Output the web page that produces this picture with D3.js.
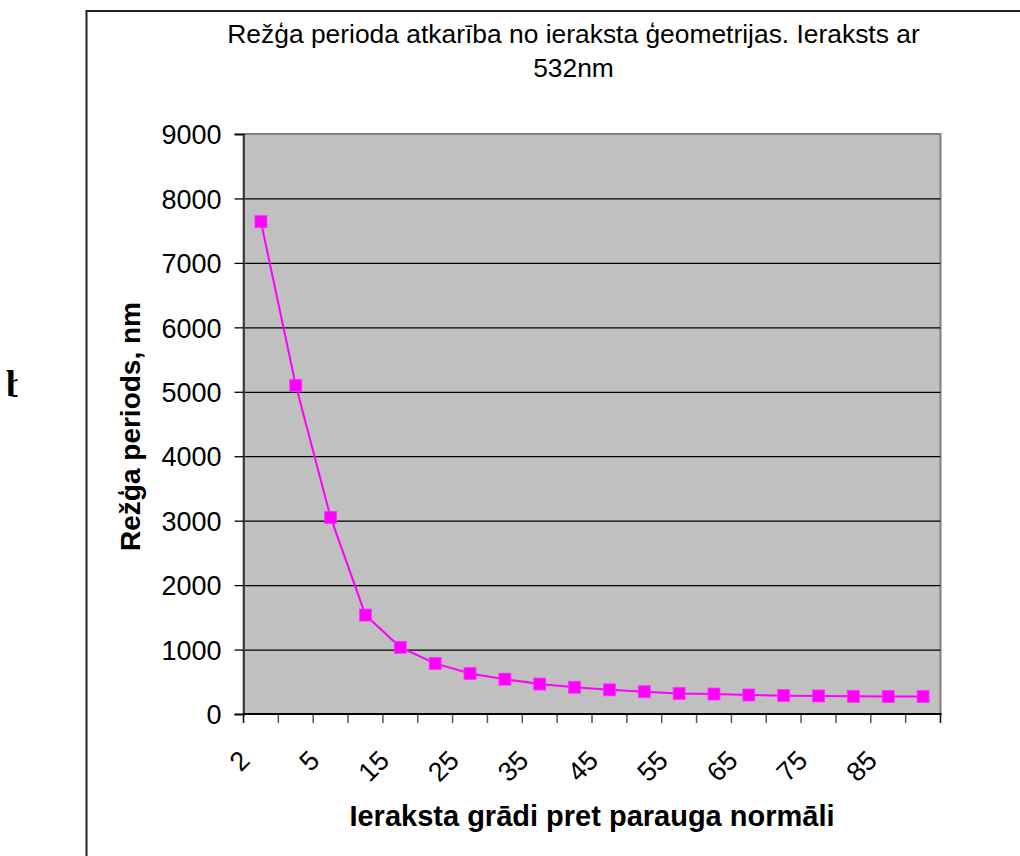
<!DOCTYPE html>
<html>
<head>
<meta charset="utf-8">
<script src="https://cdn.jsdelivr.net/npm/d3@7"></script>
<style>
  html, body { margin: 0; padding: 0; background: #fff; }
  svg { display: block; }
  text { font-family: "Liberation Sans", Arial, sans-serif; fill: #000; }
</style>
</head>
<body>
<svg id="chart" width="1020" height="856"></svg>
<script>
// Recording angle (degrees from sample normal) and the resulting grating period (nm), 532 nm recording
const angles = ["2", "3", "5", "10", "15", "20", "25", "30", "35", "40", "45", "50", "55", "60", "65", "70", "75", "80", "85", "90"];
const periods = [7640, 5100, 3050, 1535, 1035, 785, 630, 540, 465, 415, 375, 345, 320, 310, 295, 285, 280, 275, 270, 270];
const yTicks = [0, 1000, 2000, 3000, 4000, 5000, 6000, 7000, 8000, 9000];
const xLabelStep = 2;

const titleLines = ["Režģa perioda atkarība no ieraksta ģeometrijas. Ieraksts ar", "532nm"];
const yTitle = "Režģa periods, nm";
const xTitle = "Ieraksta grādi pret parauga normāli";

const svg = d3.select("#chart");

const plot = { left: 243.5, right: 940.5, top: 134, bottom: 714 };

const x = d3.scaleBand().domain(angles).range([plot.left, plot.right]).paddingInner(0).paddingOuter(0);
const y = d3.scaleLinear().domain([0, 9000]).range([plot.bottom, plot.top]);

// stray glyph at the left margin, cut off by the page edge
svg.append("clipPath").attr("id", "stray")
  .append("rect").attr("x", 0).attr("y", 360).attr("width", 17.5).attr("height", 50);
svg.append("text")
  .attr("x", 6).attr("y", 397)
  .attr("clip-path", "url(#stray)")
  .style("font-family", "'Liberation Serif', 'Times New Roman', serif")
  .style("font-weight", "bold")
  .style("font-size", "37px")
  .text("b");

// chart frame (left and top edges visible)
svg.append("path")
  .attr("d", "M86.5,856 L86.5,11 L1020,11")
  .attr("fill", "none")
  .attr("stroke", "#222")
  .attr("stroke-width", 2);

// plot area background
svg.append("rect")
  .attr("x", plot.left).attr("y", plot.top)
  .attr("width", plot.right - plot.left).attr("height", plot.bottom - plot.top)
  .attr("fill", "#c0c0c0")
  .attr("stroke", "#808080")
  .attr("stroke-width", 2);

// horizontal gridlines
svg.append("g").selectAll("line")
  .data(yTicks.filter(d => d > 0 && d < 9000))
  .join("line")
  .attr("x1", plot.left).attr("x2", plot.right)
  .attr("y1", d => y(d) + 0.5).attr("y2", d => y(d) + 0.5)
  .attr("stroke", "#000")
  .attr("stroke-width", 1.3);

// y axis
const yAxis = d3.axisLeft(y).tickValues(yTicks).tickSize(9).tickPadding(13).tickFormat(d3.format("d"));
const gy = svg.append("g").attr("transform", `translate(${plot.left},0)`).call(yAxis);
gy.select(".domain").attr("stroke", "#404040").attr("stroke-width", 2);
gy.selectAll(".tick line").attr("stroke", "#000").attr("stroke-width", 1.3);
gy.selectAll(".tick text")
  .style("font-size", "27px")
  .attr("dy", "0.36em");

// x axis: ticks sit on category boundaries, labels on every other category
const boundaries = angles.map(a => x(a)).concat([x(angles[angles.length - 1]) + x.bandwidth()]);
svg.append("g").selectAll("line")
  .data(boundaries)
  .join("line")
  .attr("x1", d => d).attr("x2", d => d)
  .attr("y1", plot.bottom).attr("y2", plot.bottom + 9)
  .attr("stroke", (d, i) => (i === 0 || i === boundaries.length - 1) ? "#000" : "#555")
  .attr("stroke-width", 1.5);

svg.append("line")
  .attr("x1", plot.left - 1).attr("x2", plot.right + 1)
  .attr("y1", plot.bottom).attr("y2", plot.bottom)
  .attr("stroke", "#000").attr("stroke-width", 2);

svg.append("g").selectAll("text")
  .data(angles.filter((a, i) => i % xLabelStep === 0))
  .join("text")
  .attr("text-anchor", "end")
  .attr("transform", d => `translate(${x(d) + x.bandwidth() / 2 - 9.5},762) rotate(-45)`)
  .style("font-size", "27px")
  .text(d => d);

// series line and square markers
const line = d3.line()
  .x((d, i) => x(angles[i]) + x.bandwidth() / 2)
  .y(d => y(d));

svg.append("path")
  .datum(periods)
  .attr("d", line)
  .attr("fill", "none")
  .attr("stroke", "#ff00ff")
  .attr("stroke-width", 2);

const m = 12;
svg.append("g").selectAll("rect")
  .data(periods)
  .join("rect")
  .attr("x", (d, i) => x(angles[i]) + x.bandwidth() / 2 - m / 2)
  .attr("y", d => y(d) - m / 2)
  .attr("width", m).attr("height", m)
  .attr("fill", "#ff00ff")
  .attr("stroke", "#ff33ff")
  .attr("stroke-width", 0.8);

// title
svg.append("g").selectAll("text")
  .data(titleLines)
  .join("text")
  .attr("x", 573.5)
  .attr("y", (d, i) => 43 + i * 33.5)
  .attr("text-anchor", "middle")
  .style("font-size", "26.4px")
  .text(d => d);

// axis titles
svg.append("text")
  .attr("transform", `translate(140,426.5) rotate(-90)`)
  .attr("text-anchor", "middle")
  .style("font-size", "28px")
  .style("font-weight", "bold")
  .text(yTitle);

svg.append("text")
  .attr("x", 592)
  .attr("y", 826)
  .attr("text-anchor", "middle")
  .style("font-size", "29px")
  .style("font-weight", "bold")
  .text(xTitle);
</script>
</body>
</html>
